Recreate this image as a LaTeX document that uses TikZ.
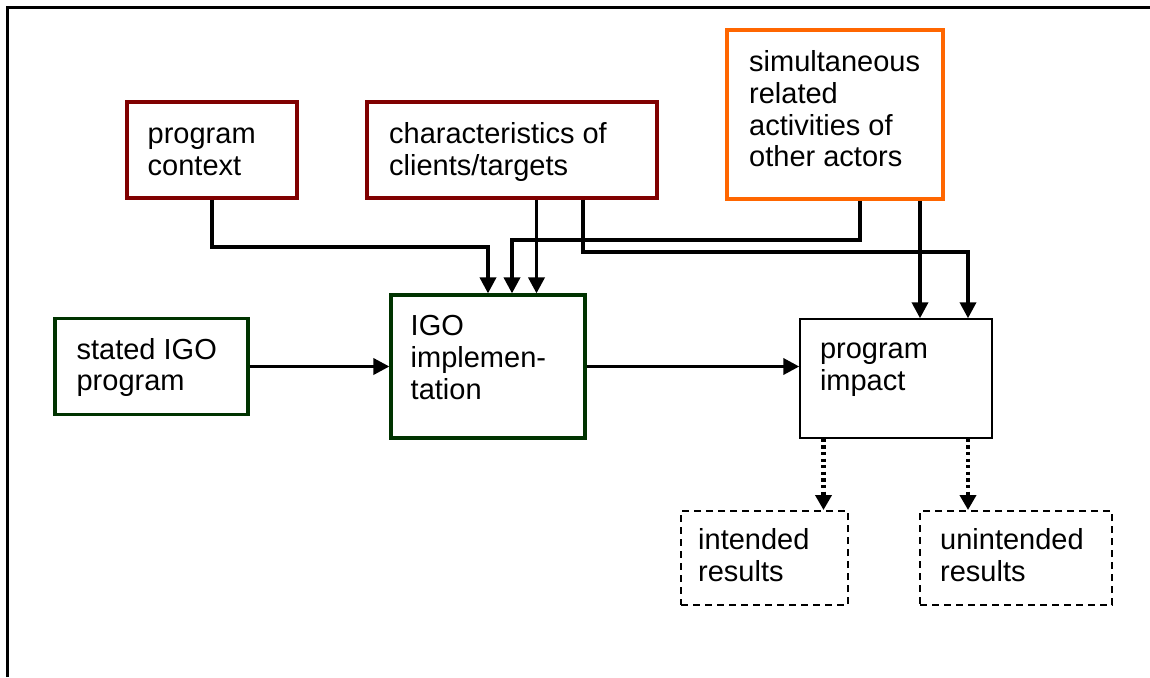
\documentclass[tikz,border=0pt]{standalone}
\usepackage{fontspec}
\setmainfont{Liberation Sans}
\usetikzlibrary{arrows.meta}
\definecolor{boxred}{HTML}{800000}
\definecolor{boxorange}{HTML}{FF6600}
\definecolor{boxgreen}{HTML}{003300}
\begin{document}
\begin{tikzpicture}[x=1pt, y=-1pt,
  box/.style={rectangle, inner sep=0pt},
  redbox/.style={box, draw=boxred, line width=3.2pt},
  orangebox/.style={box, draw=boxorange, line width=3.6pt},
  greenbox/.style={box, draw=boxgreen, line width=3.2pt},
  plainbox/.style={box, draw=black, line width=1.4pt},
  resultbox/.style={box, draw=black, line width=2pt, dash pattern=on 7pt off 5pt},
  txt/.style={anchor=north west, inner sep=0pt, align=left,
              font=\fontsize{29}{32}\selectfont},
  conn/.style={line width=3.6pt, -{Triangle[length=16pt, width=16pt]}},
  dotconn/.style={line width=4.2pt, dash pattern=on 3.3pt off 3.3pt,
                  -{Triangle[length=15pt, width=16pt]}}
]
\useasboundingbox (0,0) rectangle (1150,677);

% open frame: left and top edges only
\coordinate (frameBL) at (7.4,677);
\coordinate (frameTL) at (7.4,7.4);
\coordinate (frameTR) at (1150,7.4);
\draw[line width=2.3pt] (frameBL) -- (frameTL) -- (frameTR);

% boxes
\node[redbox, minimum width=170pt, minimum height=96pt] (ctx) at (212,150) {};
\node[redbox, minimum width=290pt, minimum height=96pt] (chars) at (512,150) {};
\node[orangebox, minimum width=216pt, minimum height=169pt] (simul) at (835,114.5) {};
\node[greenbox, minimum width=193pt, minimum height=96pt] (stated) at (151.5,366.5) {};
\node[greenbox, minimum width=194pt, minimum height=143pt] (impl) at (488,366.5) {};
\node[plainbox, minimum width=192pt, minimum height=119pt] (impact) at (896,378.5) {};
\node[resultbox, minimum width=167pt, minimum height=94pt] (intended) at (764.5,558) {};
\node[resultbox, minimum width=192pt, minimum height=94pt] (unintended) at (1016,558) {};

% labels
\node[txt] (ctxT) at (147.5,120.9) {\strut program\\context};
\node[txt] (charsT) at (389,120.9) {\strut characteristics of\\clients/targets};
\node[txt, font=\fontsize{29}{31.7}\selectfont] (simulT) at (749,49.3)
  {\strut simultaneous\\related\\activities of\\other actors};
\node[txt, font=\fontsize{29}{31}\selectfont] (statedT) at (76.4,337.6) {\strut stated IGO\\program};
\node[txt] (implT) at (410.5,312.6) {\strut IGO\\implemen-\\tation};
\node[txt] (impactT) at (819.8,335.9) {\strut program\\impact};
\node[txt] (intendedT) at (698,526.6) {\strut intended\\results};
\node[txt] (unintendedT) at (940,526.6) {\strut unintended\\results};

% lanes of the connectors
\coordinate (laneA) at (536.5,247);
\coordinate (laneB) at (512,240);
\coordinate (laneC) at (860,240);
\coordinate (laneD) at (583,252);
\coordinate (laneE) at (968,252);
\coordinate (laneF) at (920,0);
\coordinate (laneG) at (823.5,0);

% inputs to the implementation
\draw[conn] (ctx.south) |- (0,247 -| impl.north) -- (impl.north);
\draw[conn] (chars.south -| laneA) -- (impl.north -| laneA);
\draw[conn] (simul.south -| laneC) -- (laneC) -- (laneB) -- (impl.north -| laneB);

% inputs to the impact
\draw[conn] (chars.south -| laneD) -- (laneD) -- (laneE) -- (impact.north -| laneE);
\draw[conn] (simul.south -| laneF) -- (impact.north -| laneF);

% main chain
\draw[conn] (stated.east) -- (impl.west);
\draw[conn] (impl.east) -- (impl.east -| impact.west);

% results
\draw[dotconn] (impact.south -| laneG) -- (intended.north -| laneG);
\draw[dotconn] (impact.south -| laneE) -- (unintended.north -| laneE);
\end{tikzpicture}
\end{document}
